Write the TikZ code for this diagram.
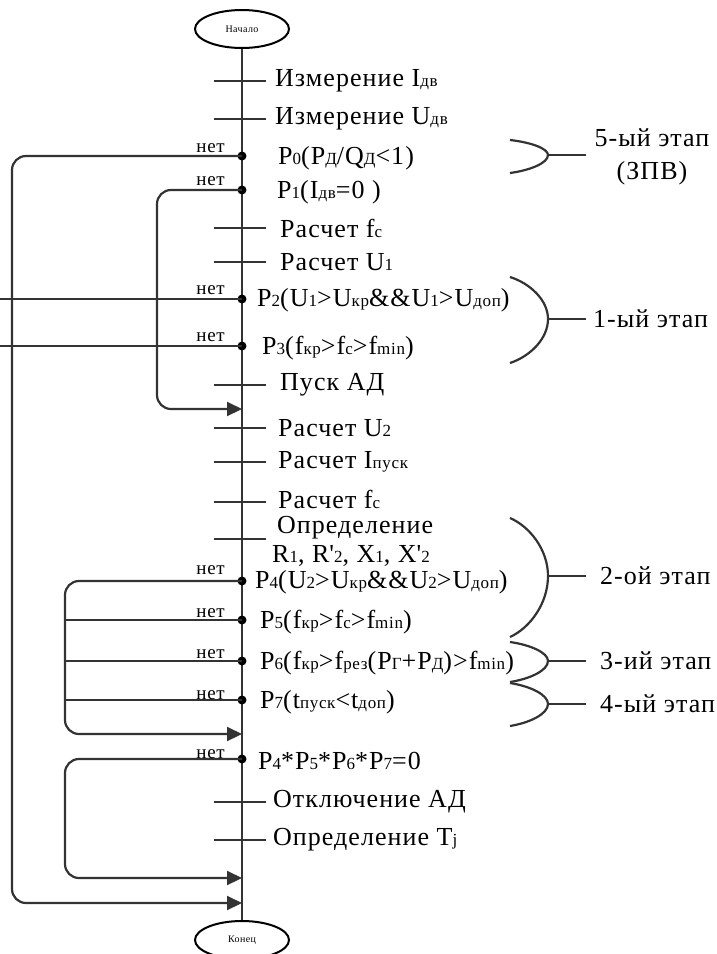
\documentclass[tikz,border=0pt]{standalone}
\usepackage{fontspec}
\setmainfont{Liberation Serif}[LetterSpace=4]
\usetikzlibrary{arrows.meta,calc,shapes.geometric}
\definecolor{linecol}{HTML}{333333}
\newcommand\lo[1]{{\fontsize{17}{17}\selectfont #1}}
\tikzset{
  flow/.style={draw=linecol, line width=2.2pt},
  loopline/.style={flow, rounded corners=14pt},
  arr/.style={-{Triangle[length=15pt,width=14pt]}},
  lbl/.style={anchor=west, inner sep=0pt, font=\fontsize{26}{30}\selectfont},
  net/.style={anchor=base east, inner sep=0pt, font=\fontsize{19}{20}\selectfont},
  term/.style={ellipse, draw=black, line width=2pt, fill=white, minimum width=94pt, minimum height=38pt, inner sep=0pt, font=\fontsize{10}{10}\selectfont},
  stage/.style={anchor=west, inner sep=0pt, font=\fontsize{26}{30}\selectfont},
  brace/.style={draw=linecol, line width=2.2pt},
}
\begin{document}
\begin{tikzpicture}[x=1pt,y=-1pt]
\useasboundingbox (0,0) rectangle (717,954);
% terminals
\node[term] (start) at (242,29) {Начало};
\node[term] (end) at (242,940) {Конец};
% junction coordinates on the main line
\foreach \n/\y in {t1/81,t2/119,d0/156,d1/190,t3/228,t4/262,d2/299,d3/346,t5/385,a1/409,t6/428,t7/462,t8/502,t9/539,d4/581,d5/620,d6/661,d7/700,a4/734,d8/759,t10/802,t11/840,a8/878,a0/903}
  \coordinate (\n) at (242,\y);
% column coordinates for loops
\coordinate (L0) at (12,0);
\coordinate (L1) at (157,0);
\coordinate (L4) at (65,0);
\coordinate (E) at (0,0);
% main line
\draw[flow] (start.south) -- (end.north);
% ticks
\foreach \t in {t1,t2,t3,t4,t5,t6,t7,t8,t9,t10,t11}
  \draw[flow] ($(\t)+(-28,0)$) -- ($(\t)+(24,0)$);
% dots
\foreach \d in {d0,d1,d2,d3,d4,d5,d6,d7,d8}
  \fill[black] (\d) circle (4.5pt);
% loops
\draw[loopline,arr] (d0) -- (d0 -| L0) -- (a0 -| L0) -- (a0);
\draw[loopline,arr] (d1) -- (d1 -| L1) -- (a1 -| L1) -- (a1);
\draw[flow] (d2) -- (d2 -| E);
\draw[flow] (d3) -- (d3 -| E);
\draw[loopline,arr] (d4) -- (d4 -| L4) -- (a4 -| L4) -- (a4);
\draw[flow] (d5) -- (d5 -| L4);
\draw[flow] (d6) -- (d6 -| L4);
\draw[flow] (d7) -- (d7 -| L4);
\draw[loopline,arr] (d8) -- (d8 -| L4) -- (a8 -| L4) -- (a8);
% "нет" labels
\foreach \d/\dy in {d0/-4,d1/-5,d2/-5,d3/-5,d4/-7,d5/-3,d6/-3,d7/-1,d8/-1}
  \node[net] at ($(\d)+(-17,\dy)$) {нет};
% labels
\node[lbl] (l1) at (275,81) {Измерение I\lo{дв}};
\node[lbl] (l2) at (275,119) {Измерение U\lo{дв}};
\node[lbl] (l3) at (278,158) {P\lo{0}(P\lo{Д}/Q\lo{Д}<1)};
\node[lbl] (l4) at (277,192) {P\lo{1}(I\lo{дв}=0 )};
\node[lbl] (l5) at (280,228) {Расчет f\lo{c}};
\node[lbl] (l6) at (280,262) {Расчет U\lo{1}};
\node[lbl] (l7) at (257,300) {P\lo{2}(U\lo{1}>U\lo{кр}\&\&U\lo{1}>U\lo{доп})};
\node[lbl] (l8) at (262,348) {P\lo{3}(f\lo{кр}>f\lo{c}>f\lo{min})};
\node[lbl] (l9) at (280,385) {Пуск АД};
\node[lbl] (l10) at (278,428) {Расчет U\lo{2}};
\node[lbl] (l11) at (278,462) {Расчет I\lo{пуск}};
\node[lbl] (l12) at (278,499) {Расчет f\lo{c}};
\node[lbl] (l13) at (277,528) {Определение};
\node[lbl] (l14) at (272,556) {R\lo{1}, R\textquotesingle\lo{2}, X\lo{1}, X\textquotesingle\lo{2}};
\node[lbl] (l15) at (255,582) {P\lo{4}(U\lo{2}>U\lo{кр}\&\&U\lo{2}>U\lo{доп})};
\node[lbl] (l16) at (260,622) {P\lo{5}(f\lo{кр}>f\lo{c}>f\lo{min})};
\node[lbl] (l17) at (260,663) {P\lo{6}(f\lo{кр}>f\lo{рез}(P\lo{Г}+P\lo{Д})>f\lo{min})};
\node[lbl] (l18) at (260,702) {P\lo{7}(t\lo{пуск}<t\lo{доп})};
\node[lbl] (l19) at (258,761) {P\lo{4}*P\lo{5}*P\lo{6}*P\lo{7}=0};
\node[lbl] (l20) at (273,802) {Отключение АД};
\node[lbl] (l21) at (273,840) {Определение T\lo{j}};
% stage braces
\foreach \nm/\yt/\ym/\yb in {s5/140/155/173, s1/277/319/363, s2/518/576/637, s3/642/661/682, s4/683/704/726}{
  \coordinate (\nm top) at (510,\yt);
  \coordinate (\nm tip) at (548,\ym);
  \coordinate (\nm bot) at (510,\yb);
  \coordinate (\nm end) at (586,\ym);
  \draw[brace] (\nm top) .. controls ($(\nm top)+(20,{0.15*(\ym-\yt)})$) and ($(\nm tip)+(0,{-0.45*(\ym-\yt)})$) .. (\nm tip)
     .. controls ($(\nm tip)+(0,{0.45*(\yb-\ym)})$) and ($(\nm bot)+(20,{-0.15*(\yb-\ym)})$) .. (\nm bot);
  \draw[brace] (\nm tip) -- (\nm end);
}
\node[stage, anchor=center, align=center, font=\fontsize{26}{33}\selectfont] (st5) at (652,157) {5-ый этап\\(ЗПВ)};
\node[stage] (st1) at (593,319) {1-ый этап};
\node[stage] (st2) at (600,576) {2-ой этап};
\node[stage] (st3) at (600,661) {3-ий этап};
\node[stage] (st4) at (600,704) {4-ый этап};
\end{tikzpicture}
\end{document}
